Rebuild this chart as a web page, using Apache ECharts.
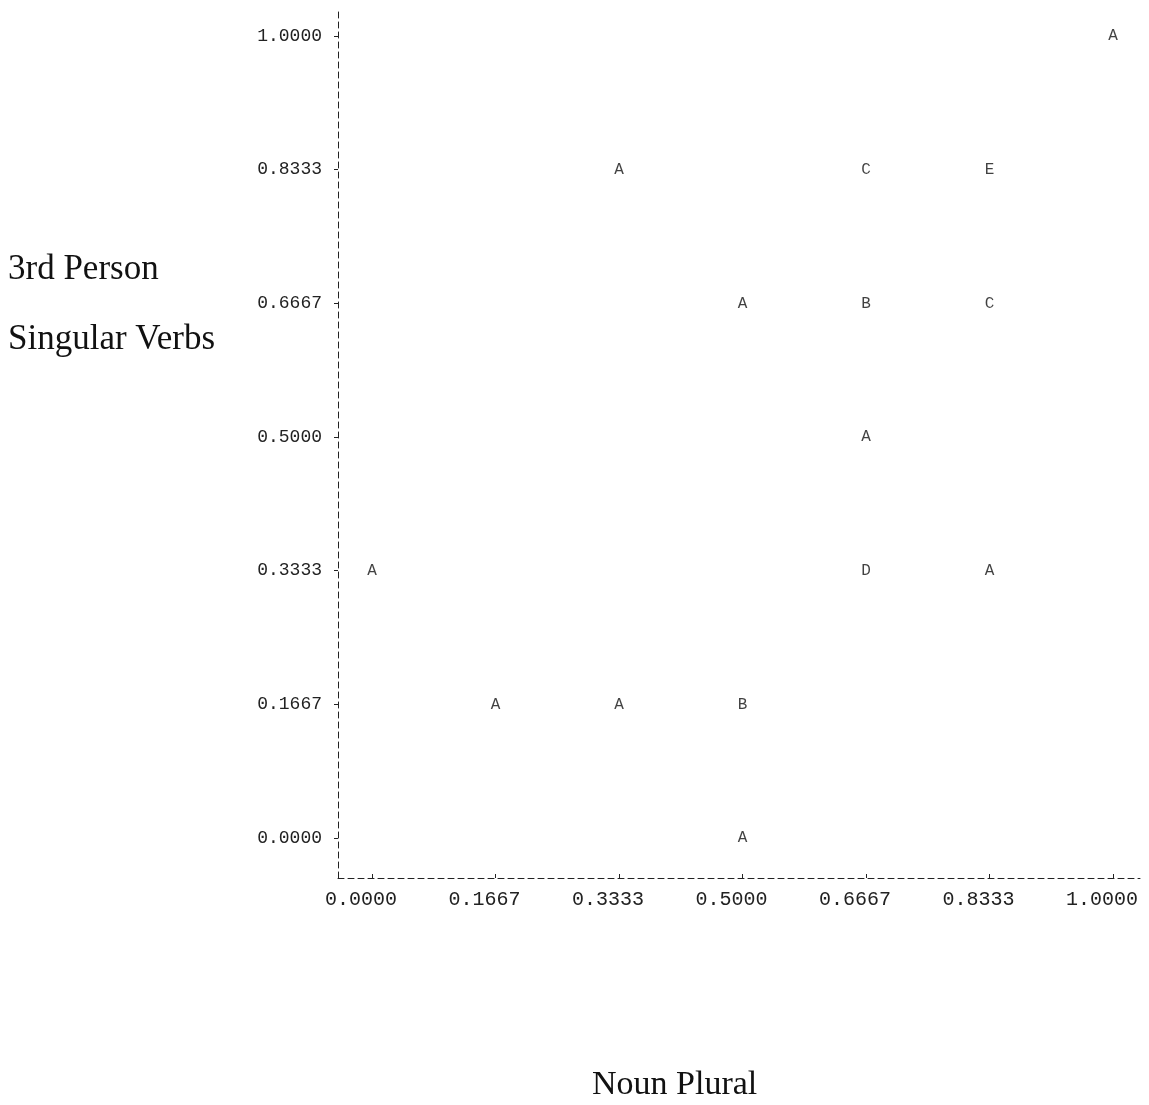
<!DOCTYPE html>
<html>
<head>
<meta charset="utf-8">
<script src="https://cdn.jsdelivr.net/npm/echarts@6/dist/echarts.min.js"></script>
<style>html,body{margin:0;padding:0;background:#fff}#c{width:1149px;height:1105px}</style>
</head>
<body>
<div id="c"></div>
<script>
// Data: noun plural (x), 3rd person singular verbs (y), plot letter (A=1 obs, B=2, ...)
var xValues = [0, 0.1667, 0.3333, 0.5, 0.5, 0.3333, 0.5, 0.6667, 0.6667, 0.6667, 0.6667, 0.8333, 0.8333, 0.8333, 1];
var yValues = [0.3333, 0.1667, 0.1667, 0.1667, 0, 0.8333, 0.6667, 0.8333, 0.6667, 0.5, 0.3333, 0.8333, 0.6667, 0.3333, 1];
var letters = ['A', 'A', 'A', 'B', 'A', 'A', 'A', 'C', 'B', 'A', 'D', 'E', 'C', 'A', 'A'];
var tickValues = [0, 0.1667, 0.3333, 0.5, 0.6667, 0.8333, 1];
var xName = 'Noun Plural';
var yNameLines = ['3rd Person', 'Singular Verbs'];

var pts = xValues.map(function (x, i) { return [x, yValues[i], letters[i]]; });
var mono = '"Liberation Mono", "DejaVu Sans Mono", monospace';
var serif = '"Liberation Serif", "DejaVu Serif", serif';
var axisLineStyle = { color: '#222', width: 1, type: [6, 4] };

var chart = echarts.init(document.getElementById('c'), null, { renderer: 'canvas' });
chart.setOption({
  backgroundColor: '#fff',
  animation: false,
  grid: { left: 338, top: 10, width: 802, height: 868 },
  xAxis: {
    type: 'value', min: -0.0459, max: 1.0364,
    axisLine: { show: true, onZero: false, lineStyle: axisLineStyle },
    axisTick: { show: true, customValues: tickValues, length: 4, inside: true, lineStyle: { color: '#222' } },
    axisLabel: {
      customValues: tickValues, margin: 12, padding: [0, 22, 0, 0],
      fontFamily: mono, fontSize: 20, color: '#222',
      formatter: function (v) { return v.toFixed(4); }
    },
    splitLine: { show: false }
  },
  yAxis: {
    type: 'value', min: -0.0499, max: 1.0324,
    axisLine: { show: true, onZero: false, lineStyle: axisLineStyle },
    axisTick: { show: true, customValues: tickValues, length: 4, lineStyle: { color: '#222' } },
    axisLabel: {
      customValues: tickValues, margin: 16,
      fontFamily: mono, fontSize: 18, color: '#222',
      formatter: function (v) { return v.toFixed(4); }
    },
    splitLine: { show: false }
  },
  series: [{
    type: 'scatter',
    data: pts,
    symbolSize: 1,
    itemStyle: { color: 'rgba(0,0,0,0)' },
    label: {
      show: true, position: 'inside',
      formatter: function (p) { return p.value[2]; },
      fontFamily: mono, fontSize: 16, fontWeight: 'normal', color: '#111'
    }
  }],
  graphic: [
    { type: 'text', left: 8, top: 252, style: { text: yNameLines[0], font: '35px ' + serif, fill: '#111' } },
    { type: 'text', left: 8, top: 322, style: { text: yNameLines[1], font: '35px ' + serif, fill: '#111' } },
    { type: 'text', left: 592, top: 1068, style: { text: xName, font: '34px ' + serif, fill: '#111' } }
  ]
});
</script>
</body>
</html>
